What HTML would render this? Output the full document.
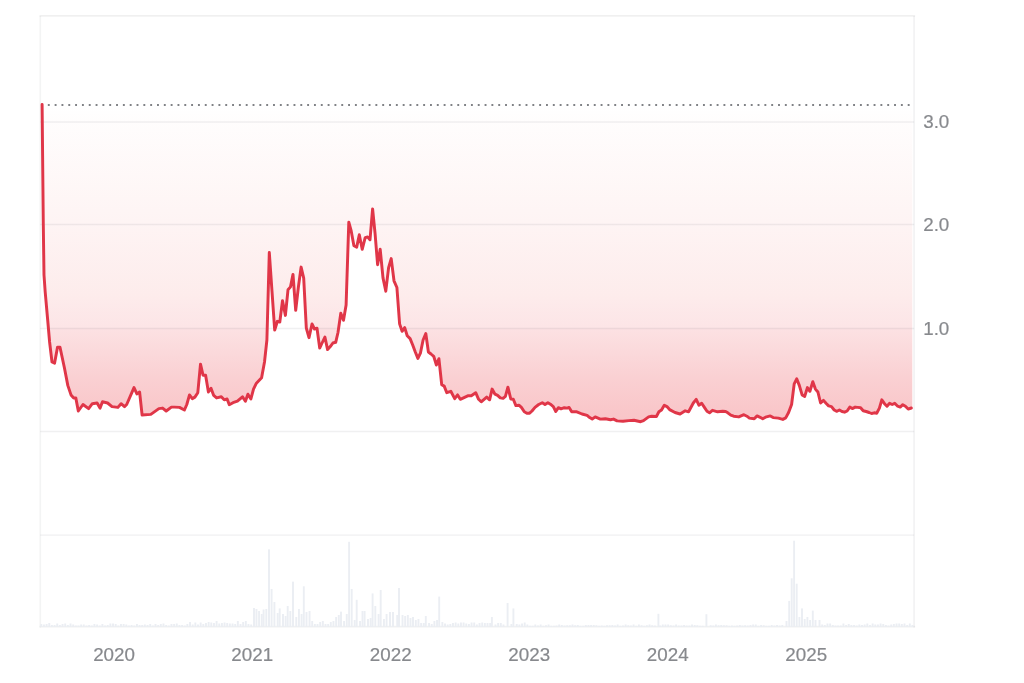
<!DOCTYPE html>
<html lang="en">
<head>
<meta charset="utf-8">
<title>Price chart</title>
<style>
html,body{margin:0;padding:0;background:#fff;}
body{width:1024px;height:683px;overflow:hidden;font-family:"Liberation Sans",Arial,sans-serif;}
svg{display:block;}
.lab{font-family:"Liberation Sans",Arial,sans-serif;font-size:18.5px;fill:#87898d;stroke:#87898d;stroke-width:0.2px;stroke-linejoin:round;}
</style>
</head>
<body>
<svg width="1024" height="683" viewBox="0 0 1024 683">
<defs>
<linearGradient id="fillg" gradientUnits="userSpaceOnUse" x1="0" y1="105" x2="0" y2="425">
<stop offset="0.0000" stop-color="#ec3f3c" stop-opacity="0"/><stop offset="0.0531" stop-color="#ec3f3c" stop-opacity="0.012"/><stop offset="0.3719" stop-color="#ec3f3c" stop-opacity="0.058"/><stop offset="0.4688" stop-color="#ec3f3c" stop-opacity="0.076"/><stop offset="0.5938" stop-color="#ec3f3c" stop-opacity="0.099"/><stop offset="0.6531" stop-color="#ea3943" stop-opacity="0.119"/><stop offset="0.6953" stop-color="#ea3943" stop-opacity="0.132"/><stop offset="0.7016" stop-color="#ea3943" stop-opacity="0.152"/><stop offset="0.7344" stop-color="#ea3943" stop-opacity="0.17"/><stop offset="0.8594" stop-color="#ea3943" stop-opacity="0.24"/><stop offset="0.9531" stop-color="#ea3943" stop-opacity="0.283"/><stop offset="1.0000" stop-color="#ea3943" stop-opacity="0.298"/>
</linearGradient>
</defs>
<rect width="1024" height="683" fill="#ffffff"/>
<path d="M42.1 105 L42.1 104.4 L43.3 225 L44 275 L45.2 292 L47.6 319 L49.6 342 L52 362 L54.6 363.1 L57.5 347.3 L60 347.3 L64.4 367.8 L67.8 385.4 L71 394.9 L73.7 397.9 L75.8 397.9 L78.3 411 L83 404.5 L88.6 408.6 L92.3 403.7 L97.1 403 L100 408.1 L102.5 401.8 L107.6 403 L112 406.6 L117.9 407.4 L121.1 403.7 L124.5 406.6 L126.7 404.5 L134 387.6 L136.9 393.9 L139.6 392 L142.1 415 L150.8 414.4 L158.9 408.6 L162.6 408.1 L166.2 411 L171.4 407.1 L174.4 407.1 L179.5 407.4 L184.4 410 L186.8 404.5 L189.5 394.9 L192.3 398.6 L194.9 397.1 L197.8 392.7 L200.5 364.2 L203 375.2 L205.6 375.2 L208.4 392 L211 388.3 L213.7 395.4 L216.6 397.9 L221.3 396.8 L224.2 399.8 L227.1 399 L229.3 404.7 L233 402.7 L237.4 401.2 L242.5 396.8 L245.4 401.2 L247.9 394.2 L250.9 399 L253.5 389.1 L256.4 383.2 L261.6 377.8 L264.5 362 L266.9 340 L269.3 252.5 L272 291.3 L274.7 330.1 L277.4 321.3 L279.8 322 L282.5 300.8 L285.4 315.4 L288 289.8 L290.5 286.9 L293 274.4 L295.7 310.3 L298.4 287 L301.1 267.1 L303.7 278.1 L306.3 328 L309 337.7 L312 324 L314.5 329 L317 328.2 L319.7 348.1 L322.3 342.5 L324.9 337.1 L327.6 349.6 L330.3 346.6 L332.9 343 L335.7 342.3 L338 332.5 L340.8 313.3 L343.5 320.3 L346.1 305 L348.8 222.2 L351.2 231 L353.9 245.7 L356.7 247.1 L359.3 234.7 L362.2 249.3 L365.2 237.6 L367.6 236.9 L370 239.8 L372.6 208.9 L375.1 233.9 L377.6 264.7 L380.2 249.3 L383 277.9 L385.8 291.2 L388.6 267.6 L391.2 258.6 L394 280.8 L396.9 287.5 L399.6 323.9 L402.1 331.3 L404.7 327.6 L407.2 335.7 L410.1 338.6 L412.7 345 L415.3 352 L417.9 358.4 L420.4 353.2 L423.1 340 L425.8 333.5 L428.4 352 L431 354 L433.7 356.3 L436.4 365 L438.9 358.7 L441.7 384.7 L444.2 386.1 L446.8 392.7 L450.8 391.3 L454.7 398.6 L457.6 394.9 L460.3 399.3 L468.3 395.7 L471.3 395.7 L475.7 392.7 L478.6 399.3 L481.2 401.8 L486.7 397.1 L489.6 399.8 L492.1 389.1 L495 394.2 L497.6 395.4 L500.3 397.9 L503.1 398.3 L505.4 396.4 L507.9 387.2 L510.8 399 L513.3 399.3 L515.9 405.6 L518.9 405.2 L521.4 407.4 L524.3 411.8 L526.9 413.2 L529.6 413.2 L532 411 L535 407.4 L538.7 404.5 L542.3 402.7 L545 404.5 L547.9 402.7 L550.4 404.2 L553.3 406.6 L555.8 411.5 L558.4 407.7 L561 408.8 L564.3 407.7 L567.2 408.1 L569.1 407.4 L571.7 411.8 L576.8 411.8 L582 414 L587.1 415.4 L589.7 417.6 L592.2 419.1 L595.2 416.9 L600.3 419.1 L605.4 418.8 L610.5 419.8 L613.5 419.1 L617.1 420.9 L623 421.3 L628.8 420.6 L634 420.3 L640.6 421.7 L643.5 420.6 L648.6 416.9 L651.6 416.2 L656.4 416.5 L658.9 411.8 L661.5 410 L664.3 405.2 L666.9 406.6 L669.6 409.6 L675 412.5 L680.1 414 L685.2 410.8 L688.6 411.8 L693.3 403 L696.2 399.3 L698.9 405.2 L701.7 403.3 L704.4 407.4 L707 411.3 L709.5 412.8 L712.5 410.3 L717.6 411.8 L722.7 411.3 L725.6 411.5 L727.8 412.8 L730.8 415.1 L733.7 416.2 L738.8 416.9 L743.9 414.7 L746.9 416.2 L749.4 418.1 L754.2 418.8 L757.1 415.9 L760.1 417.3 L762.7 418.8 L765.5 417.2 L770.3 415.9 L773.2 417.6 L778.4 418.1 L782.8 419.4 L785.7 417.9 L788.6 412.5 L791.6 404.5 L794.2 383.9 L796.7 378.8 L799.3 385.4 L802.1 394.9 L804.7 396.4 L807.4 387.6 L809.9 391.3 L812.8 381.7 L815.4 389.1 L817.9 392 L820.6 403 L823.5 400.4 L826 403.3 L828.6 405.9 L831.5 406.6 L834.2 410 L836.9 411.3 L839.4 410 L842 411.5 L844.6 412.2 L847.1 411 L849.8 407.1 L852.3 408.6 L855.2 407.1 L857.8 407.4 L860.6 407.7 L863.2 410.8 L866.2 411.5 L869.1 412.5 L871.6 413.5 L874.2 412.8 L876.7 413.2 L879.4 408.1 L881.8 399.8 L884.5 403.7 L887 406.2 L889.6 403.3 L892.2 404.5 L894.7 403.3 L897.7 406.2 L900.2 407.1 L902.8 404.7 L905.4 406.2 L908.2 409.1 L911.3 408 L912.3 408.4 L912.3 105 Z" fill="url(#fillg)"/>
<g stroke="#55555a" stroke-opacity="0.085" stroke-width="1.4" fill="none"><line x1="40.3" x2="914.1" y1="122" y2="122"/><line x1="40.3" x2="914.1" y1="224.5" y2="224.5"/><line x1="40.3" x2="914.1" y1="328.5" y2="328.5"/><line x1="40.3" x2="914.1" y1="431.5" y2="431.5"/><line x1="40.3" x2="914.1" y1="535.1" y2="535.1"/></g>
<g stroke="#5a6068" fill="none">
<line x1="39.55" x2="915.1" y1="15.9" y2="15.9" stroke-width="1.3" stroke-opacity="0.13"/>
<line x1="40.3" x2="40.3" y1="15.9" y2="627.4" stroke-width="1.6" stroke-opacity="0.07"/>
<line x1="914.1" x2="914.1" y1="15.9" y2="627.4" stroke-width="1.8" stroke-opacity="0.075"/>
<line x1="39.55" x2="915.1" y1="626.6" y2="626.6" stroke-width="1.6" stroke-opacity="0.09"/>
</g>
<g fill="#ebeef3"><rect x="40.35" y="624.0" width="1.9" height="3.0"/><rect x="43.01" y="624.5" width="1.9" height="2.5"/><rect x="45.66" y="624.0" width="1.9" height="3.0"/><rect x="48.32" y="623.0" width="1.9" height="4.0"/><rect x="50.97" y="625.0" width="1.9" height="2.0"/><rect x="53.63" y="625.0" width="1.9" height="2.0"/><rect x="56.29" y="623.5" width="1.9" height="3.5"/><rect x="58.94" y="625.0" width="1.9" height="2.0"/><rect x="61.60" y="624.0" width="1.9" height="3.0"/><rect x="64.25" y="623.5" width="1.9" height="3.5"/><rect x="66.91" y="625.0" width="1.9" height="2.0"/><rect x="69.57" y="623.5" width="1.9" height="3.5"/><rect x="72.22" y="624.5" width="1.9" height="2.5"/><rect x="74.88" y="625.5" width="1.9" height="1.5"/><rect x="77.53" y="625.5" width="1.9" height="1.5"/><rect x="80.19" y="624.5" width="1.9" height="2.5"/><rect x="82.85" y="624.5" width="1.9" height="2.5"/><rect x="85.50" y="625.5" width="1.9" height="1.5"/><rect x="88.16" y="625.0" width="1.9" height="2.0"/><rect x="90.81" y="625.5" width="1.9" height="1.5"/><rect x="93.47" y="624.0" width="1.9" height="3.0"/><rect x="96.13" y="624.5" width="1.9" height="2.5"/><rect x="98.78" y="625.5" width="1.9" height="1.5"/><rect x="101.44" y="624.0" width="1.9" height="3.0"/><rect x="104.09" y="625.5" width="1.9" height="1.5"/><rect x="106.75" y="625.0" width="1.9" height="2.0"/><rect x="109.41" y="623.5" width="1.9" height="3.5"/><rect x="112.06" y="623.5" width="1.9" height="3.5"/><rect x="114.72" y="624.0" width="1.9" height="3.0"/><rect x="117.37" y="625.5" width="1.9" height="1.5"/><rect x="120.03" y="624.0" width="1.9" height="3.0"/><rect x="122.69" y="624.0" width="1.9" height="3.0"/><rect x="125.34" y="624.5" width="1.9" height="2.5"/><rect x="128.00" y="625.5" width="1.9" height="1.5"/><rect x="130.65" y="625.0" width="1.9" height="2.0"/><rect x="133.31" y="625.5" width="1.9" height="1.5"/><rect x="135.97" y="624.0" width="1.9" height="3.0"/><rect x="138.62" y="625.0" width="1.9" height="2.0"/><rect x="141.28" y="625.0" width="1.9" height="2.0"/><rect x="143.93" y="624.5" width="1.9" height="2.5"/><rect x="146.59" y="625.0" width="1.9" height="2.0"/><rect x="149.25" y="624.0" width="1.9" height="3.0"/><rect x="151.90" y="625.5" width="1.9" height="1.5"/><rect x="154.56" y="624.0" width="1.9" height="3.0"/><rect x="157.21" y="625.0" width="1.9" height="2.0"/><rect x="159.87" y="624.0" width="1.9" height="3.0"/><rect x="162.53" y="623.5" width="1.9" height="3.5"/><rect x="165.18" y="625.0" width="1.9" height="2.0"/><rect x="167.84" y="625.5" width="1.9" height="1.5"/><rect x="170.49" y="624.0" width="1.9" height="3.0"/><rect x="173.15" y="624.0" width="1.9" height="3.0"/><rect x="175.81" y="623.5" width="1.9" height="3.5"/><rect x="178.46" y="625.0" width="1.9" height="2.0"/><rect x="181.12" y="625.0" width="1.9" height="2.0"/><rect x="183.77" y="625.5" width="1.9" height="1.5"/><rect x="186.43" y="624.0" width="1.9" height="3.0"/><rect x="189.09" y="622.0" width="1.9" height="5.0"/><rect x="191.74" y="624.5" width="1.9" height="2.5"/><rect x="194.40" y="622.5" width="1.9" height="4.5"/><rect x="197.05" y="624.5" width="1.9" height="2.5"/><rect x="199.71" y="622.5" width="1.9" height="4.5"/><rect x="202.37" y="624.0" width="1.9" height="3.0"/><rect x="205.02" y="623.0" width="1.9" height="4.0"/><rect x="207.68" y="622.0" width="1.9" height="5.0"/><rect x="210.33" y="622.5" width="1.9" height="4.5"/><rect x="212.99" y="623.0" width="1.9" height="4.0"/><rect x="215.65" y="621.0" width="1.9" height="6.0"/><rect x="218.30" y="623.5" width="1.9" height="3.5"/><rect x="220.96" y="623.0" width="1.9" height="4.0"/><rect x="223.61" y="622.5" width="1.9" height="4.5"/><rect x="226.27" y="623.0" width="1.9" height="4.0"/><rect x="228.93" y="623.5" width="1.9" height="3.5"/><rect x="231.58" y="623.5" width="1.9" height="3.5"/><rect x="234.24" y="624.0" width="1.9" height="3.0"/><rect x="236.89" y="621.0" width="1.9" height="6.0"/><rect x="239.55" y="624.0" width="1.9" height="3.0"/><rect x="242.21" y="622.0" width="1.9" height="5.0"/><rect x="244.86" y="621.0" width="1.9" height="6.0"/><rect x="247.52" y="624.0" width="1.9" height="3.0"/><rect x="250.17" y="624.5" width="1.9" height="2.5"/><rect x="253.05" y="608.0" width="1.9" height="19.0"/><rect x="255.49" y="609.0" width="1.9" height="18.0"/><rect x="258.14" y="611.0" width="1.9" height="16.0"/><rect x="260.80" y="614.0" width="1.9" height="13.0"/><rect x="262.65" y="609.5" width="1.9" height="17.5"/><rect x="265.35" y="609.0" width="1.9" height="18.0"/><rect x="268.05" y="549.3" width="1.9" height="77.7"/><rect x="270.65" y="589.0" width="1.9" height="38.0"/><rect x="273.45" y="602.0" width="1.9" height="25.0"/><rect x="276.73" y="613.0" width="1.9" height="14.0"/><rect x="278.75" y="608.4" width="1.9" height="18.6"/><rect x="282.05" y="614.0" width="1.9" height="13.0"/><rect x="284.70" y="616.0" width="1.9" height="11.0"/><rect x="286.75" y="606.0" width="1.9" height="21.0"/><rect x="289.35" y="611.0" width="1.9" height="16.0"/><rect x="292.05" y="581.6" width="1.9" height="45.4"/><rect x="295.33" y="617.0" width="1.9" height="10.0"/><rect x="297.98" y="609.0" width="1.9" height="18.0"/><rect x="300.64" y="614.0" width="1.9" height="13.0"/><rect x="302.85" y="586.3" width="1.9" height="40.7"/><rect x="305.55" y="612.0" width="1.9" height="15.0"/><rect x="308.61" y="611.0" width="1.9" height="16.0"/><rect x="311.26" y="621.0" width="1.9" height="6.0"/><rect x="313.92" y="624.0" width="1.9" height="3.0"/><rect x="316.57" y="624.0" width="1.9" height="3.0"/><rect x="319.23" y="622.0" width="1.9" height="5.0"/><rect x="321.89" y="621.0" width="1.9" height="6.0"/><rect x="324.54" y="624.0" width="1.9" height="3.0"/><rect x="327.20" y="624.0" width="1.9" height="3.0"/><rect x="329.85" y="622.0" width="1.9" height="5.0"/><rect x="332.51" y="621.0" width="1.9" height="6.0"/><rect x="335.17" y="617.0" width="1.9" height="10.0"/><rect x="337.82" y="615.0" width="1.9" height="12.0"/><rect x="340.05" y="611.6" width="1.9" height="15.4"/><rect x="343.13" y="621.0" width="1.9" height="6.0"/><rect x="345.79" y="614.0" width="1.9" height="13.0"/><rect x="348.15" y="541.8" width="1.9" height="85.2"/><rect x="350.75" y="589.0" width="1.9" height="38.0"/><rect x="353.76" y="620.0" width="1.9" height="7.0"/><rect x="355.75" y="599.8" width="1.9" height="27.2"/><rect x="359.07" y="621.0" width="1.9" height="6.0"/><rect x="361.55" y="611.0" width="1.9" height="16.0"/><rect x="363.65" y="611.0" width="1.9" height="16.0"/><rect x="367.04" y="619.0" width="1.9" height="8.0"/><rect x="369.69" y="618.0" width="1.9" height="9.0"/><rect x="371.65" y="593.4" width="1.9" height="33.6"/><rect x="374.35" y="606.0" width="1.9" height="21.0"/><rect x="377.66" y="614.0" width="1.9" height="13.0"/><rect x="379.75" y="590.0" width="1.9" height="37.0"/><rect x="382.97" y="619.0" width="1.9" height="8.0"/><rect x="385.63" y="614.0" width="1.9" height="13.0"/><rect x="389.05" y="612.0" width="1.9" height="15.0"/><rect x="392.05" y="612.0" width="1.9" height="15.0"/><rect x="396.25" y="615.0" width="1.9" height="12.0"/><rect x="398.05" y="588.0" width="1.9" height="39.0"/><rect x="401.57" y="615.0" width="1.9" height="12.0"/><rect x="404.22" y="616.0" width="1.9" height="11.0"/><rect x="406.88" y="615.0" width="1.9" height="12.0"/><rect x="409.53" y="618.0" width="1.9" height="9.0"/><rect x="412.05" y="617.0" width="1.9" height="10.0"/><rect x="414.85" y="620.0" width="1.9" height="7.0"/><rect x="417.50" y="619.0" width="1.9" height="8.0"/><rect x="420.16" y="623.0" width="1.9" height="4.0"/><rect x="422.81" y="623.0" width="1.9" height="4.0"/><rect x="424.85" y="616.0" width="1.9" height="11.0"/><rect x="428.13" y="623.0" width="1.9" height="4.0"/><rect x="430.78" y="624.0" width="1.9" height="3.0"/><rect x="433.44" y="621.0" width="1.9" height="6.0"/><rect x="436.09" y="620.0" width="1.9" height="7.0"/><rect x="438.25" y="596.6" width="1.9" height="30.4"/><rect x="441.41" y="622.0" width="1.9" height="5.0"/><rect x="444.06" y="623.5" width="1.9" height="3.5"/><rect x="446.72" y="624.5" width="1.9" height="2.5"/><rect x="449.37" y="624.0" width="1.9" height="3.0"/><rect x="452.03" y="623.0" width="1.9" height="4.0"/><rect x="454.69" y="622.5" width="1.9" height="4.5"/><rect x="457.34" y="623.5" width="1.9" height="3.5"/><rect x="460.00" y="622.5" width="1.9" height="4.5"/><rect x="462.65" y="622.5" width="1.9" height="4.5"/><rect x="465.31" y="623.5" width="1.9" height="3.5"/><rect x="467.97" y="624.0" width="1.9" height="3.0"/><rect x="470.62" y="622.5" width="1.9" height="4.5"/><rect x="473.28" y="622.5" width="1.9" height="4.5"/><rect x="475.93" y="624.5" width="1.9" height="2.5"/><rect x="478.59" y="623.0" width="1.9" height="4.0"/><rect x="481.25" y="622.5" width="1.9" height="4.5"/><rect x="483.90" y="623.0" width="1.9" height="4.0"/><rect x="486.56" y="623.0" width="1.9" height="4.0"/><rect x="489.21" y="623.0" width="1.9" height="4.0"/><rect x="490.95" y="617.0" width="1.9" height="10.0"/><rect x="494.53" y="624.5" width="1.9" height="2.5"/><rect x="497.18" y="623.0" width="1.9" height="4.0"/><rect x="499.84" y="623.0" width="1.9" height="4.0"/><rect x="502.49" y="624.5" width="1.9" height="2.5"/><rect x="506.65" y="603.0" width="1.9" height="24.0"/><rect x="510.46" y="624.0" width="1.9" height="3.0"/><rect x="512.45" y="608.4" width="1.9" height="18.6"/><rect x="515.77" y="624.0" width="1.9" height="3.0"/><rect x="518.43" y="624.5" width="1.9" height="2.5"/><rect x="521.09" y="623.5" width="1.9" height="3.5"/><rect x="523.74" y="622.5" width="1.9" height="4.5"/><rect x="526.40" y="624.5" width="1.9" height="2.5"/><rect x="529.05" y="625.8" width="1.9" height="1.2"/><rect x="531.71" y="625.8" width="1.9" height="1.2"/><rect x="534.37" y="624.5" width="1.9" height="2.5"/><rect x="537.02" y="625.5" width="1.9" height="1.5"/><rect x="539.68" y="624.5" width="1.9" height="2.5"/><rect x="542.33" y="625.8" width="1.9" height="1.2"/><rect x="544.99" y="625.2" width="1.9" height="1.8"/><rect x="547.65" y="624.5" width="1.9" height="2.5"/><rect x="550.30" y="625.8" width="1.9" height="1.2"/><rect x="552.96" y="625.8" width="1.9" height="1.2"/><rect x="555.61" y="625.5" width="1.9" height="1.5"/><rect x="558.27" y="624.5" width="1.9" height="2.5"/><rect x="560.93" y="625.0" width="1.9" height="2.0"/><rect x="563.58" y="625.5" width="1.9" height="1.5"/><rect x="566.24" y="625.2" width="1.9" height="1.8"/><rect x="568.89" y="625.2" width="1.9" height="1.8"/><rect x="571.55" y="624.5" width="1.9" height="2.5"/><rect x="574.21" y="625.2" width="1.9" height="1.8"/><rect x="576.86" y="625.0" width="1.9" height="2.0"/><rect x="579.52" y="625.8" width="1.9" height="1.2"/><rect x="582.17" y="625.8" width="1.9" height="1.2"/><rect x="584.83" y="625.0" width="1.9" height="2.0"/><rect x="587.49" y="625.0" width="1.9" height="2.0"/><rect x="590.14" y="625.0" width="1.9" height="2.0"/><rect x="592.80" y="625.0" width="1.9" height="2.0"/><rect x="595.45" y="625.2" width="1.9" height="1.8"/><rect x="598.11" y="625.8" width="1.9" height="1.2"/><rect x="600.77" y="625.5" width="1.9" height="1.5"/><rect x="603.42" y="625.8" width="1.9" height="1.2"/><rect x="606.08" y="625.2" width="1.9" height="1.8"/><rect x="608.73" y="625.2" width="1.9" height="1.8"/><rect x="611.39" y="625.0" width="1.9" height="2.0"/><rect x="614.05" y="625.5" width="1.9" height="1.5"/><rect x="616.70" y="624.5" width="1.9" height="2.5"/><rect x="619.36" y="625.8" width="1.9" height="1.2"/><rect x="622.01" y="625.5" width="1.9" height="1.5"/><rect x="624.67" y="624.5" width="1.9" height="2.5"/><rect x="627.33" y="625.2" width="1.9" height="1.8"/><rect x="629.98" y="625.5" width="1.9" height="1.5"/><rect x="632.64" y="624.5" width="1.9" height="2.5"/><rect x="635.29" y="625.8" width="1.9" height="1.2"/><rect x="637.95" y="624.5" width="1.9" height="2.5"/><rect x="640.61" y="625.2" width="1.9" height="1.8"/><rect x="643.26" y="625.8" width="1.9" height="1.2"/><rect x="645.92" y="625.2" width="1.9" height="1.8"/><rect x="648.57" y="624.5" width="1.9" height="2.5"/><rect x="651.23" y="625.2" width="1.9" height="1.8"/><rect x="653.89" y="625.5" width="1.9" height="1.5"/><rect x="657.45" y="613.8" width="1.9" height="13.2"/><rect x="659.20" y="625.5" width="1.9" height="1.5"/><rect x="661.85" y="624.5" width="1.9" height="2.5"/><rect x="664.51" y="624.5" width="1.9" height="2.5"/><rect x="667.17" y="624.5" width="1.9" height="2.5"/><rect x="669.82" y="625.2" width="1.9" height="1.8"/><rect x="672.48" y="625.5" width="1.9" height="1.5"/><rect x="675.13" y="624.5" width="1.9" height="2.5"/><rect x="677.79" y="625.5" width="1.9" height="1.5"/><rect x="680.45" y="625.5" width="1.9" height="1.5"/><rect x="683.10" y="625.0" width="1.9" height="2.0"/><rect x="685.76" y="625.5" width="1.9" height="1.5"/><rect x="688.41" y="625.5" width="1.9" height="1.5"/><rect x="691.07" y="624.5" width="1.9" height="2.5"/><rect x="693.73" y="625.0" width="1.9" height="2.0"/><rect x="696.38" y="625.2" width="1.9" height="1.8"/><rect x="699.04" y="625.8" width="1.9" height="1.2"/><rect x="701.69" y="625.8" width="1.9" height="1.2"/><rect x="705.45" y="614.2" width="1.9" height="12.8"/><rect x="709.66" y="625.2" width="1.9" height="1.8"/><rect x="712.32" y="625.5" width="1.9" height="1.5"/><rect x="714.97" y="624.5" width="1.9" height="2.5"/><rect x="717.63" y="625.2" width="1.9" height="1.8"/><rect x="720.29" y="625.0" width="1.9" height="2.0"/><rect x="722.94" y="625.2" width="1.9" height="1.8"/><rect x="725.60" y="625.2" width="1.9" height="1.8"/><rect x="728.25" y="625.8" width="1.9" height="1.2"/><rect x="730.91" y="625.5" width="1.9" height="1.5"/><rect x="733.57" y="625.8" width="1.9" height="1.2"/><rect x="736.22" y="625.5" width="1.9" height="1.5"/><rect x="738.88" y="625.0" width="1.9" height="2.0"/><rect x="741.53" y="625.5" width="1.9" height="1.5"/><rect x="744.19" y="625.2" width="1.9" height="1.8"/><rect x="746.85" y="625.5" width="1.9" height="1.5"/><rect x="749.50" y="625.0" width="1.9" height="2.0"/><rect x="752.16" y="624.5" width="1.9" height="2.5"/><rect x="754.81" y="624.5" width="1.9" height="2.5"/><rect x="757.47" y="625.8" width="1.9" height="1.2"/><rect x="760.13" y="625.0" width="1.9" height="2.0"/><rect x="762.78" y="625.2" width="1.9" height="1.8"/><rect x="765.44" y="625.8" width="1.9" height="1.2"/><rect x="768.09" y="625.8" width="1.9" height="1.2"/><rect x="770.75" y="625.0" width="1.9" height="2.0"/><rect x="773.41" y="625.5" width="1.9" height="1.5"/><rect x="776.06" y="625.0" width="1.9" height="2.0"/><rect x="778.72" y="625.5" width="1.9" height="1.5"/><rect x="781.37" y="625.0" width="1.9" height="2.0"/><rect x="785.55" y="621.0" width="1.9" height="6.0"/><rect x="788.25" y="600.9" width="1.9" height="26.1"/><rect x="790.75" y="578.3" width="1.9" height="48.7"/><rect x="793.15" y="540.7" width="1.9" height="86.3"/><rect x="795.75" y="583.7" width="1.9" height="43.3"/><rect x="798.45" y="617.0" width="1.9" height="10.0"/><rect x="801.05" y="608.4" width="1.9" height="18.6"/><rect x="803.75" y="619.0" width="1.9" height="8.0"/><rect x="806.45" y="617.0" width="1.9" height="10.0"/><rect x="809.15" y="620.0" width="1.9" height="7.0"/><rect x="811.85" y="610.6" width="1.9" height="16.4"/><rect x="814.55" y="620.0" width="1.9" height="7.0"/><rect x="818.56" y="620.0" width="1.9" height="7.0"/><rect x="821.21" y="624.5" width="1.9" height="2.5"/><rect x="823.87" y="625.0" width="1.9" height="2.0"/><rect x="826.53" y="623.5" width="1.9" height="3.5"/><rect x="829.18" y="623.5" width="1.9" height="3.5"/><rect x="831.84" y="625.0" width="1.9" height="2.0"/><rect x="834.49" y="625.5" width="1.9" height="1.5"/><rect x="837.15" y="625.5" width="1.9" height="1.5"/><rect x="839.81" y="625.5" width="1.9" height="1.5"/><rect x="842.46" y="623.5" width="1.9" height="3.5"/><rect x="845.12" y="625.0" width="1.9" height="2.0"/><rect x="847.77" y="624.0" width="1.9" height="3.0"/><rect x="850.43" y="625.0" width="1.9" height="2.0"/><rect x="853.09" y="625.0" width="1.9" height="2.0"/><rect x="855.74" y="625.5" width="1.9" height="1.5"/><rect x="858.40" y="624.5" width="1.9" height="2.5"/><rect x="861.05" y="625.0" width="1.9" height="2.0"/><rect x="863.71" y="624.5" width="1.9" height="2.5"/><rect x="866.37" y="623.5" width="1.9" height="3.5"/><rect x="869.02" y="625.0" width="1.9" height="2.0"/><rect x="871.68" y="623.5" width="1.9" height="3.5"/><rect x="874.33" y="624.5" width="1.9" height="2.5"/><rect x="876.99" y="624.5" width="1.9" height="2.5"/><rect x="879.65" y="623.5" width="1.9" height="3.5"/><rect x="882.30" y="624.0" width="1.9" height="3.0"/><rect x="884.96" y="625.0" width="1.9" height="2.0"/><rect x="887.61" y="625.5" width="1.9" height="1.5"/><rect x="890.27" y="624.5" width="1.9" height="2.5"/><rect x="892.93" y="624.0" width="1.9" height="3.0"/><rect x="895.58" y="623.5" width="1.9" height="3.5"/><rect x="898.24" y="623.5" width="1.9" height="3.5"/><rect x="900.89" y="624.0" width="1.9" height="3.0"/><rect x="903.55" y="623.5" width="1.9" height="3.5"/><rect x="906.21" y="625.0" width="1.9" height="2.0"/><rect x="908.86" y="623.5" width="1.9" height="3.5"/><rect x="911.52" y="625.0" width="1.9" height="2.0"/></g>
<line x1="41.0" x2="913" y1="105.0" y2="105.0" stroke="#808286" stroke-width="1.9" stroke-dasharray="1.9 4.9245" stroke-dashoffset="0"/>
<path d="M42.1 104.4 L43.3 225 L44 275 L45.2 292 L47.6 319 L49.6 342 L52 362 L54.6 363.1 L57.5 347.3 L60 347.3 L64.4 367.8 L67.8 385.4 L71 394.9 L73.7 397.9 L75.8 397.9 L78.3 411 L83 404.5 L88.6 408.6 L92.3 403.7 L97.1 403 L100 408.1 L102.5 401.8 L107.6 403 L112 406.6 L117.9 407.4 L121.1 403.7 L124.5 406.6 L126.7 404.5 L134 387.6 L136.9 393.9 L139.6 392 L142.1 415 L150.8 414.4 L158.9 408.6 L162.6 408.1 L166.2 411 L171.4 407.1 L174.4 407.1 L179.5 407.4 L184.4 410 L186.8 404.5 L189.5 394.9 L192.3 398.6 L194.9 397.1 L197.8 392.7 L200.5 364.2 L203 375.2 L205.6 375.2 L208.4 392 L211 388.3 L213.7 395.4 L216.6 397.9 L221.3 396.8 L224.2 399.8 L227.1 399 L229.3 404.7 L233 402.7 L237.4 401.2 L242.5 396.8 L245.4 401.2 L247.9 394.2 L250.9 399 L253.5 389.1 L256.4 383.2 L261.6 377.8 L264.5 362 L266.9 340 L269.3 252.5 L272 291.3 L274.7 330.1 L277.4 321.3 L279.8 322 L282.5 300.8 L285.4 315.4 L288 289.8 L290.5 286.9 L293 274.4 L295.7 310.3 L298.4 287 L301.1 267.1 L303.7 278.1 L306.3 328 L309 337.7 L312 324 L314.5 329 L317 328.2 L319.7 348.1 L322.3 342.5 L324.9 337.1 L327.6 349.6 L330.3 346.6 L332.9 343 L335.7 342.3 L338 332.5 L340.8 313.3 L343.5 320.3 L346.1 305 L348.8 222.2 L351.2 231 L353.9 245.7 L356.7 247.1 L359.3 234.7 L362.2 249.3 L365.2 237.6 L367.6 236.9 L370 239.8 L372.6 208.9 L375.1 233.9 L377.6 264.7 L380.2 249.3 L383 277.9 L385.8 291.2 L388.6 267.6 L391.2 258.6 L394 280.8 L396.9 287.5 L399.6 323.9 L402.1 331.3 L404.7 327.6 L407.2 335.7 L410.1 338.6 L412.7 345 L415.3 352 L417.9 358.4 L420.4 353.2 L423.1 340 L425.8 333.5 L428.4 352 L431 354 L433.7 356.3 L436.4 365 L438.9 358.7 L441.7 384.7 L444.2 386.1 L446.8 392.7 L450.8 391.3 L454.7 398.6 L457.6 394.9 L460.3 399.3 L468.3 395.7 L471.3 395.7 L475.7 392.7 L478.6 399.3 L481.2 401.8 L486.7 397.1 L489.6 399.8 L492.1 389.1 L495 394.2 L497.6 395.4 L500.3 397.9 L503.1 398.3 L505.4 396.4 L507.9 387.2 L510.8 399 L513.3 399.3 L515.9 405.6 L518.9 405.2 L521.4 407.4 L524.3 411.8 L526.9 413.2 L529.6 413.2 L532 411 L535 407.4 L538.7 404.5 L542.3 402.7 L545 404.5 L547.9 402.7 L550.4 404.2 L553.3 406.6 L555.8 411.5 L558.4 407.7 L561 408.8 L564.3 407.7 L567.2 408.1 L569.1 407.4 L571.7 411.8 L576.8 411.8 L582 414 L587.1 415.4 L589.7 417.6 L592.2 419.1 L595.2 416.9 L600.3 419.1 L605.4 418.8 L610.5 419.8 L613.5 419.1 L617.1 420.9 L623 421.3 L628.8 420.6 L634 420.3 L640.6 421.7 L643.5 420.6 L648.6 416.9 L651.6 416.2 L656.4 416.5 L658.9 411.8 L661.5 410 L664.3 405.2 L666.9 406.6 L669.6 409.6 L675 412.5 L680.1 414 L685.2 410.8 L688.6 411.8 L693.3 403 L696.2 399.3 L698.9 405.2 L701.7 403.3 L704.4 407.4 L707 411.3 L709.5 412.8 L712.5 410.3 L717.6 411.8 L722.7 411.3 L725.6 411.5 L727.8 412.8 L730.8 415.1 L733.7 416.2 L738.8 416.9 L743.9 414.7 L746.9 416.2 L749.4 418.1 L754.2 418.8 L757.1 415.9 L760.1 417.3 L762.7 418.8 L765.5 417.2 L770.3 415.9 L773.2 417.6 L778.4 418.1 L782.8 419.4 L785.7 417.9 L788.6 412.5 L791.6 404.5 L794.2 383.9 L796.7 378.8 L799.3 385.4 L802.1 394.9 L804.7 396.4 L807.4 387.6 L809.9 391.3 L812.8 381.7 L815.4 389.1 L817.9 392 L820.6 403 L823.5 400.4 L826 403.3 L828.6 405.9 L831.5 406.6 L834.2 410 L836.9 411.3 L839.4 410 L842 411.5 L844.6 412.2 L847.1 411 L849.8 407.1 L852.3 408.6 L855.2 407.1 L857.8 407.4 L860.6 407.7 L863.2 410.8 L866.2 411.5 L869.1 412.5 L871.6 413.5 L874.2 412.8 L876.7 413.2 L879.4 408.1 L881.8 399.8 L884.5 403.7 L887 406.2 L889.6 403.3 L892.2 404.5 L894.7 403.3 L897.7 406.2 L900.2 407.1 L902.8 404.7 L905.4 406.2 L908.2 409.1 L911.3 408" fill="none" stroke="#e03648" stroke-width="2.95" stroke-linejoin="round" stroke-linecap="round"/>
<g class="lab"><text transform="translate(923.2 127.7) scale(1.015 1.035)">3.0</text><text transform="translate(923.2 230.6) scale(1.015 1.035)">2.0</text><text transform="translate(923.2 334.9) scale(1.015 1.035)">1.0</text><text transform="translate(114.0 660.8) scale(1.015 1.035)" text-anchor="middle">2020</text><text transform="translate(252.2 660.8) scale(1.015 1.035)" text-anchor="middle">2021</text><text transform="translate(390.7 660.8) scale(1.015 1.035)" text-anchor="middle">2022</text><text transform="translate(529.2 660.8) scale(1.015 1.035)" text-anchor="middle">2023</text><text transform="translate(667.7 660.8) scale(1.015 1.035)" text-anchor="middle">2024</text><text transform="translate(806.2 660.8) scale(1.015 1.035)" text-anchor="middle">2025</text></g>
</svg>
</body>
</html>
